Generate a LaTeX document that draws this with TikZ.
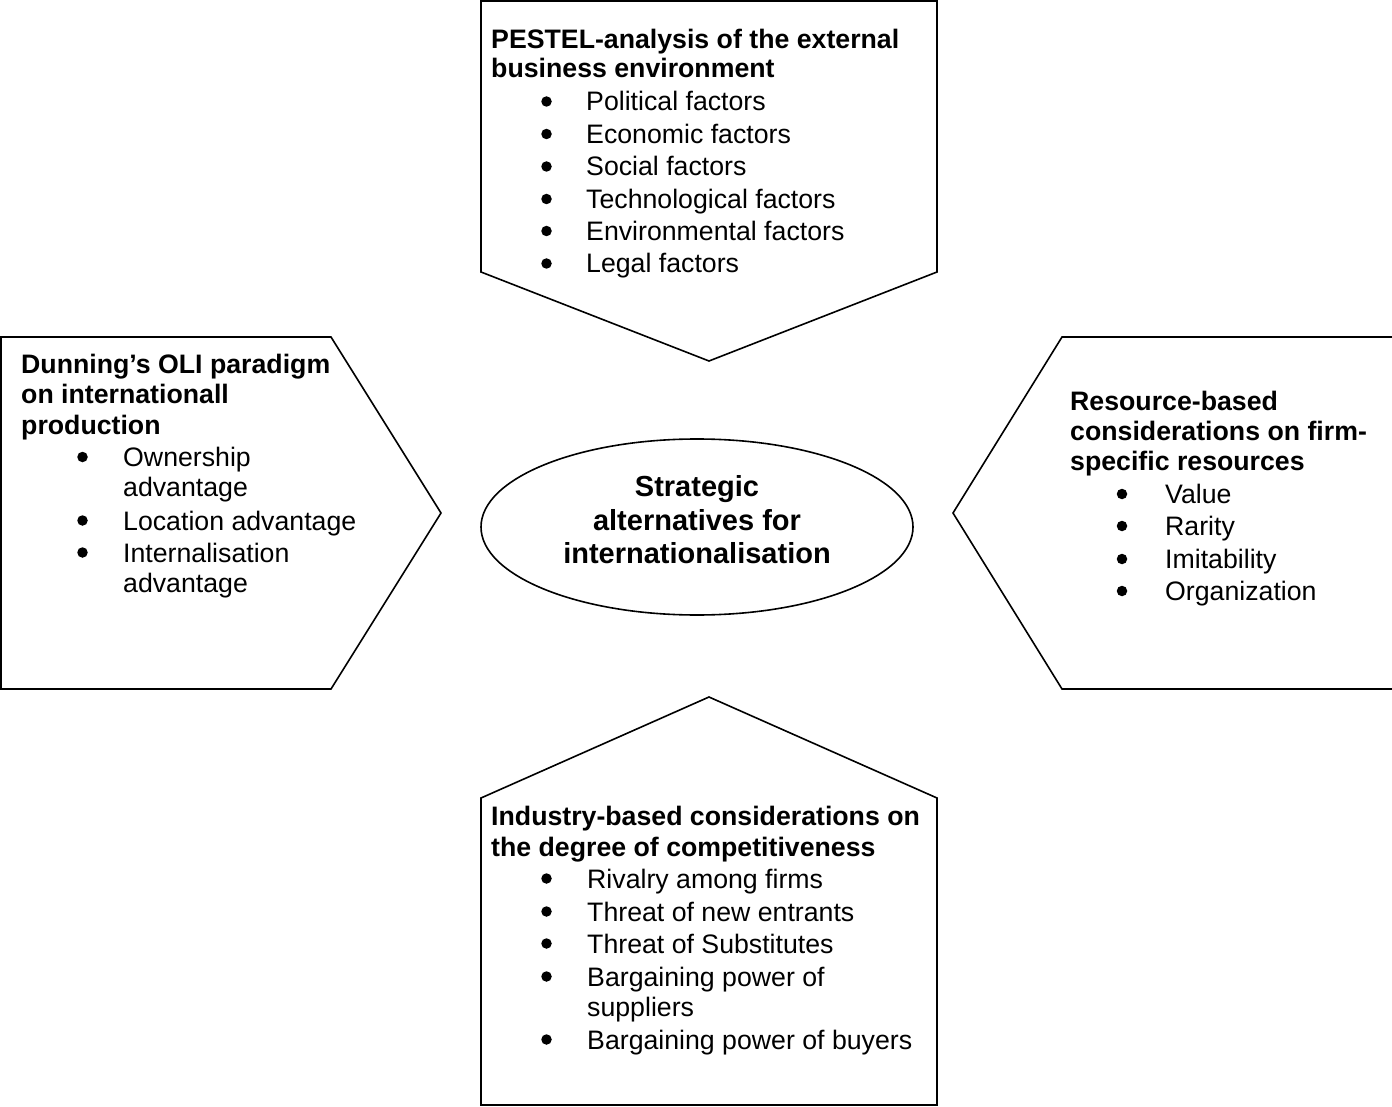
\documentclass[tikz,border=0pt]{standalone}
\usepackage{fontspec}
\setmainfont{Liberation Sans}
\usetikzlibrary{shapes.geometric}
\tikzset{
  shp/.style={draw=black, line width=1.6pt, line join=miter},
  hd/.style={anchor=base west, inner sep=0pt, font=\fontsize{26.7}{30}\selectfont\bfseries},
  itm/.style={anchor=base west, inner sep=0pt, font=\fontsize{26.7}{30}\selectfont},
  bul/.style={circle, fill=black, inner sep=0pt, minimum size=10.5pt, yshift=9.5pt},
  ctr/.style={anchor=base, inner sep=0pt, font=\fontsize{29}{33}\selectfont\bfseries},
}
\begin{document}
\begin{tikzpicture}[x=1pt,y=-1pt]
\useasboundingbox (0,0) rectangle (1392,1107);
\clip (0,0) rectangle (1392,1107);

% top pentagon
\draw[shp] (481,1) -- (937,1) -- (937,272) -- (709,361) -- (481,272) -- cycle;
% left pentagon
\draw[shp] (1,337) -- (331,337) -- (441,513) -- (331,689) -- (1,689) -- cycle;
% right pentagon
\draw[shp] (1400,337) -- (1062,337) -- (953,513) -- (1062,689) -- (1400,689) -- cycle;
% bottom pentagon
\draw[shp] (481,1105) -- (481,798) -- (709,697) -- (937,798) -- (937,1105) -- cycle;

% centre ellipse
\node[draw, line width=1.6pt, ellipse, minimum width=432pt, minimum height=176pt, inner sep=0pt] (core) at (697,527) {};
\node[ctr] (c1) at (697,496) {Strategic};
\node[ctr] (c2) at (697,530) {alternatives for};
\node[ctr] (c3) at (697,563) {internationalisation};

% top box text
\node[hd] (t1) at (491,48.5) {PESTEL-analysis of the external};
\node[hd] (t2) at (491,78) {business environment};
\node[bul] (tb1) at (546.5,111) {}; \node[itm] (ti1) at (586,111) {Political factors};
\node[bul] (tb2) at (546.5,143.5) {}; \node[itm] (ti2) at (586,143.5) {Economic factors};
\node[bul] (tb3) at (546.5,176) {}; \node[itm] (ti3) at (586,176) {Social factors};
\node[bul] (tb4) at (546.5,208.5) {}; \node[itm] (ti4) at (586,208.5) {Technological factors};
\node[bul] (tb5) at (546.5,240.5) {}; \node[itm] (ti5) at (586,240.5) {Environmental factors};
\node[bul] (tb6) at (546.5,273) {}; \node[itm] (ti6) at (586,273) {Legal factors};

% left box text
\node[hd] (l1) at (21,373) {Dunning’s OLI paradigm};
\node[hd] (l2) at (21,403.5) {on internationall};
\node[hd] (l3) at (21,434) {production};
\node[bul] (lb1) at (82.5,466.5) {}; \node[itm] (li1) at (123,466.5) {Ownership};
\node[itm] (li1b) at (123,496.5) {advantage};
\node[bul] (lb2) at (82.5,530) {}; \node[itm] (li2) at (123,530) {Location advantage};
\node[bul] (lb3) at (82.5,562) {}; \node[itm] (li3) at (123,562) {Internalisation};
\node[itm] (li3b) at (123,592) {advantage};

% right box text
\node[hd] (r1) at (1070,410) {Resource-based};
\node[hd] (r2) at (1070,440) {considerations on firm-};
\node[hd] (r3) at (1070,470) {specific resources};
\node[bul] (rb1) at (1122,503.5) {}; \node[itm] (ri1) at (1165,503.5) {Value};
\node[bul] (rb2) at (1122,535.5) {}; \node[itm] (ri2) at (1165,535.5) {Rarity};
\node[bul] (rb3) at (1122,568.5) {}; \node[itm] (ri3) at (1165,568.5) {Imitability};
\node[bul] (rb4) at (1122,600.5) {}; \node[itm] (ri4) at (1165,600.5) {Organization};

% bottom box text
\node[hd] (b1) at (491,825.5) {Industry-based considerations on};
\node[hd] (b2) at (491,856) {the degree of competitiveness};
\node[bul] (bb1) at (546.5,888) {}; \node[itm] (bi1) at (587,888) {Rivalry among firms};
\node[bul] (bb2) at (546.5,921) {}; \node[itm] (bi2) at (587,921) {Threat of new entrants};
\node[bul] (bb3) at (546.5,953) {}; \node[itm] (bi3) at (587,953) {Threat of Substitutes};
\node[bul] (bb4) at (546.5,986) {}; \node[itm] (bi4) at (587,986) {Bargaining power of};
\node[itm] (bi4b) at (587,1016) {suppliers};
\node[bul] (bb5) at (546.5,1049) {}; \node[itm] (bi5) at (587,1049) {Bargaining power of buyers};
\end{tikzpicture}
\end{document}
